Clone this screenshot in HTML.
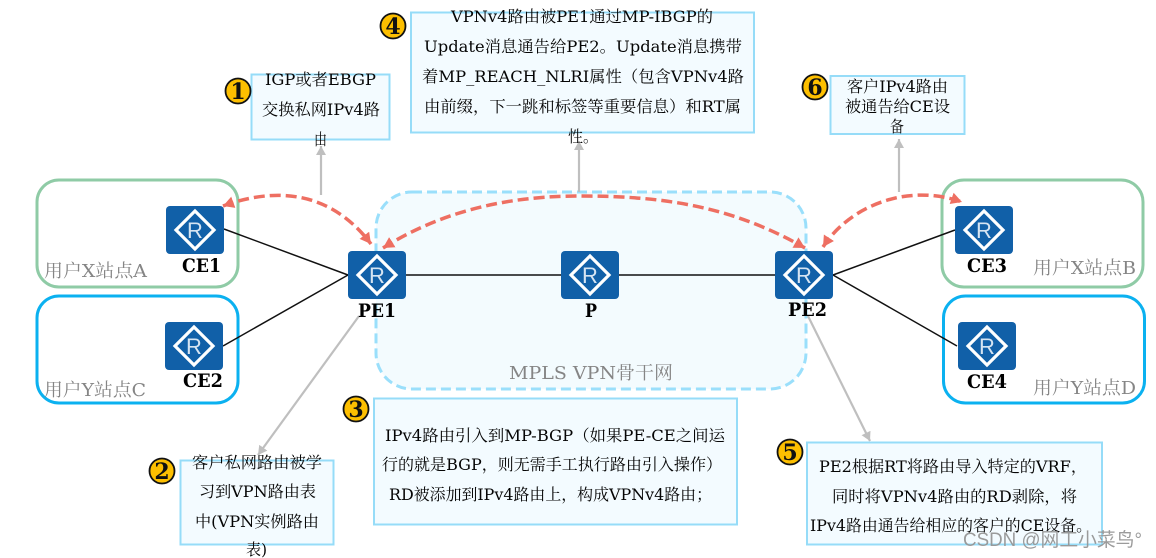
<!DOCTYPE html>
<html><head><meta charset="utf-8"><style>
html,body{margin:0;padding:0;background:#fff;width:1156px;height:558px;overflow:hidden}
svg{display:block}
text{font-family:"DejaVu Serif","Liberation Serif","Noto Serif CJK SC",serif;}
.t{font-size:16px;fill:#050505}
.g{font-size:18px;fill:#858585}
.b{font-size:18.500px;font-weight:bold;fill:#000}
.n{font-size:22px;font-weight:bold;fill:#111;text-anchor:middle}
.r{font-family:"Liberation Sans",sans-serif;font-size:22px;fill:#d6e4f2;text-anchor:middle}
</style></head><body>
<svg width="1156" height="558" viewBox="0 0 1156 558" xmlns="http://www.w3.org/2000/svg">
<defs>
<marker id="ga" markerUnits="userSpaceOnUse" markerWidth="12" markerHeight="12" refX="9" refY="5" orient="auto"><path d="M0 0L9 5L0 10Z" fill="#bfbfbf"/></marker>
<marker id="ra" markerUnits="userSpaceOnUse" markerWidth="14" markerHeight="14" refX="11" refY="6" orient="auto-start-reverse"><path d="M0 0L11 6L0 12Z" fill="#ee6f62"/></marker>
<symbol id="rt" viewBox="0 0 58 48" overflow="visible"><rect width="58" height="48" rx="4" fill="#1160a8"/><path d="M29 5L48 24L29 43L10 24Z" fill="none" stroke="#fff" stroke-width="3.200"/><text x="29" y="32" class="r">R</text></symbol>
</defs>

<rect x="37" y="180" width="201" height="107" rx="22" fill="#fff" stroke="#8fcba6" stroke-width="3"/>
<rect x="37" y="296" width="201" height="107" rx="22" fill="#fff" stroke="#0bb1f0" stroke-width="3"/>
<rect x="942" y="180" width="201" height="107" rx="22" fill="#fff" stroke="#8fcba6" stroke-width="3"/>
<rect x="943.500" y="296" width="201" height="107" rx="22" fill="#fff" stroke="#0bb1f0" stroke-width="3"/>
<rect x="376" y="192" width="430" height="197" rx="36" fill="#f3fbfe" stroke="#9adffb" stroke-width="3" stroke-dasharray="10 5"/>

<g stroke="#111" stroke-width="1.500" fill="none">
<path d="M224 229L348 275M223 346L348 275M406 275H775M833 275L955 230M833 275L957 346"/>
</g>

<g stroke="#bfbfbf" stroke-width="2.200" fill="none">
<path d="M321 195V146" marker-end="url(#ga)"/>
<path d="M579 192V141" marker-end="url(#ga)"/>
<path d="M899 192V139" marker-end="url(#ga)"/>
<path d="M359 316L258 455" marker-end="url(#ga)"/>
<path d="M808 316L870 441" marker-end="url(#ga)"/>
</g>

<g fill="none" stroke="#ee6f62" stroke-width="3.500" stroke-dasharray="11 5">
<path d="M223 206C275 187 330 190 371 244" marker-start="url(#ra)" marker-end="url(#ra)"/>
<path d="M383 248C450 206 520 196 580 196C660 196 730 205 805 248" marker-start="url(#ra)" marker-end="url(#ra)"/>
<path d="M823 247C848 208 905 182 962 202" marker-start="url(#ra)" marker-end="url(#ra)"/>
</g>

<use href="#rt" x="166" y="206" width="58" height="48"/>
<use href="#rt" x="348" y="251" width="58" height="48"/>
<use href="#rt" x="561" y="251" width="58" height="48"/>
<use href="#rt" x="775" y="251" width="58" height="48"/>
<use href="#rt" x="165" y="322" width="58" height="48"/>
<use href="#rt" x="955" y="206" width="58" height="48"/>
<use href="#rt" x="958" y="322" width="58" height="48"/>

<text class="b" x="182" y="272" textLength="39" lengthAdjust="spacingAndGlyphs">CE1</text>
<text class="b" x="183" y="387" textLength="40" lengthAdjust="spacingAndGlyphs">CE2</text>
<text class="b" x="358" y="317" textLength="38" lengthAdjust="spacingAndGlyphs">PE1</text>
<text class="b" x="585" y="317" textLength="12" lengthAdjust="spacingAndGlyphs">P</text>
<text class="b" x="788" y="316" textLength="39" lengthAdjust="spacingAndGlyphs">PE2</text>
<text class="b" x="967" y="272" textLength="40" lengthAdjust="spacingAndGlyphs">CE3</text>
<text class="b" x="967" y="388" textLength="40" lengthAdjust="spacingAndGlyphs">CE4</text>

<text class="g" x="44" y="277" textLength="103" lengthAdjust="spacingAndGlyphs">用户X站点A</text>
<text class="g" x="44" y="396" textLength="102" lengthAdjust="spacingAndGlyphs">用户Y站点C</text>
<text class="g" x="1033" y="274" textLength="103" lengthAdjust="spacingAndGlyphs">用户X站点B</text>
<text class="g" x="1033" y="394" textLength="103" lengthAdjust="spacingAndGlyphs">用户Y站点D</text>
<text class="g" x="509" y="379" textLength="164" lengthAdjust="spacingAndGlyphs">MPLS VPN骨干网</text>

<g fill="#f3fbff" stroke="#96dcf8" stroke-width="2">
<rect x="251.500" y="74.500" width="138" height="65"/>
<rect x="411" y="12.500" width="343" height="120"/>
<rect x="830.500" y="76" width="134" height="58"/>
<rect x="374" y="398.500" width="363" height="126"/>
<rect x="180.500" y="460.500" width="153" height="84"/>
<rect x="807" y="442.500" width="295" height="102"/>
</g>

<text class="t" x="265" y="85" textLength="111" lengthAdjust="spacingAndGlyphs">IGP或者EBGP</text>
<text class="t" x="262" y="115" textLength="118" lengthAdjust="spacingAndGlyphs">交换私网IPv4路</text>
<text class="t" x="314" y="145" textLength="13" lengthAdjust="spacingAndGlyphs">由</text>

<text class="t" x="451" y="22" textLength="262" lengthAdjust="spacingAndGlyphs">VPNv4路由被PE1通过MP-IBGP的</text>
<text class="t" x="424" y="52" textLength="318" lengthAdjust="spacingAndGlyphs">Update消息通告给PE2。Update消息携带</text>
<text class="t" x="422" y="82" textLength="322" lengthAdjust="spacingAndGlyphs">着MP_REACH_NLRI属性（包含VPNv4路</text>
<text class="t" x="424" y="112" textLength="317" lengthAdjust="spacingAndGlyphs">由前缀，下一跳和标签等重要信息）和RT属</text>
<text class="t" x="568" y="142" textLength="30" lengthAdjust="spacingAndGlyphs">性。</text>

<text class="t" x="847" y="92" textLength="101" lengthAdjust="spacingAndGlyphs">客户IPv4路由</text>
<text class="t" x="845" y="112" textLength="105" lengthAdjust="spacingAndGlyphs">被通告给CE设</text>
<text class="t" x="890" y="132" textLength="14" lengthAdjust="spacingAndGlyphs">备</text>

<text class="t" x="385" y="441" textLength="340" lengthAdjust="spacingAndGlyphs">IPv4路由引入到MP-BGP（如果PE-CE之间运</text>
<text class="t" x="382" y="470" textLength="340" lengthAdjust="spacingAndGlyphs">行的就是BGP，则无需手工执行路由引入操作）</text>
<text class="t" x="389" y="500" textLength="323" lengthAdjust="spacingAndGlyphs">RD被添加到IPv4路由上，构成VPNv4路由；</text>

<text class="t" x="192" y="468" textLength="130" lengthAdjust="spacingAndGlyphs">客户私网路由被学</text>
<text class="t" x="199" y="497" textLength="117" lengthAdjust="spacingAndGlyphs">习到VPN路由表</text>
<text class="t" x="195" y="527" textLength="124" lengthAdjust="spacingAndGlyphs">中(VPN实例路由</text>
<text class="t" x="246" y="555" textLength="21" lengthAdjust="spacingAndGlyphs">表)</text>

<text class="t" x="819" y="472" textLength="268" lengthAdjust="spacingAndGlyphs">PE2根据RT将路由导入特定的VRF，</text>
<text class="t" x="832" y="502" textLength="245" lengthAdjust="spacingAndGlyphs">同时将VPNv4路由的RD剥除，将</text>
<text class="t" x="810" y="531" textLength="282" lengthAdjust="spacingAndGlyphs">IPv4路由通告给相应的客户的CE设备。</text>

<g fill="#fdbf00" stroke="#111" stroke-width="1.800">
<circle cx="238" cy="91" r="12.500"/>
<circle cx="393" cy="26" r="12.500"/>
<circle cx="815" cy="87" r="12.500"/>
<circle cx="356" cy="409" r="12.500"/>
<circle cx="162" cy="471" r="12.500"/>
<circle cx="790" cy="452" r="12.500"/>
</g>
<text class="n" x="238" y="99">1</text>
<text class="n" x="393" y="34">4</text>
<text class="n" x="815" y="95">6</text>
<text class="n" x="356" y="417">3</text>
<text class="n" x="162" y="479">2</text>
<text class="n" x="790" y="460">5</text>

<text x="963" y="546" textLength="179" lengthAdjust="spacingAndGlyphs" style="font-family:'Liberation Sans','Noto Sans CJK SC',sans-serif;font-size:19px;fill:#969696;opacity:.95">CSDN @网工小菜鸟°</text>
</svg>
</body></html>
